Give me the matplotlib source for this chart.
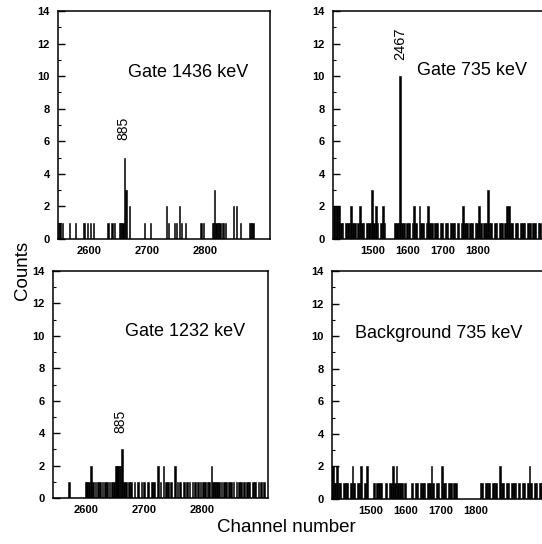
import matplotlib
matplotlib.use("Agg")
import matplotlib.pyplot as plt
from matplotlib.ticker import MultipleLocator

W, H = 542, 544
FONT = "Liberation Sans"

# ---------------- data ----------------
# Gate 1436 keV (top-left): non-zero channels and their counts
g1436_ch = [2546, 2548, 2552, 2564, 2575, 2589, 2591, 2595, 2601, 2606,
            2631, 2638, 2642, 2651, 2653, 2655, 2657, 2659, 2661, 2663,
            2668, 2694, 2705, 2732, 2736, 2746, 2750, 2755, 2759, 2765,
            2792, 2797, 2812, 2814, 2816, 2818, 2820, 2822, 2825, 2829,
            2831, 2834, 2848, 2853, 2860, 2876, 2878, 2880, 2882]
g1436_cnt = [1, 1, 1, 1, 1, 1, 1, 1, 1, 1,
             1, 1, 1, 1, 1, 1, 1, 5, 3, 3,
             2, 1, 1, 2, 1, 1, 1, 2, 1, 1,
             1, 1, 1, 1, 3, 1, 1, 1, 1, 1,
             1, 1, 2, 2, 1, 1, 1, 1, 1]

# Gate 1232 keV (bottom-left)
g1232_ch = [2569, 2598, 2600, 2603, 2607, 2611, 2615, 2619, 2623, 2627,
            2631, 2635, 2639, 2643, 2647, 2650, 2652, 2654, 2656, 2658,
            2660, 2664, 2667, 2672, 2676, 2682, 2688, 2694, 2698, 2705,
            2712, 2716, 2723, 2727, 2732, 2737, 2740, 2745, 2752, 2756,
            2760, 2768, 2772, 2777, 2782, 2786, 2792, 2796, 2800, 2804,
            2808, 2811, 2815, 2818, 2821, 2824, 2828, 2832, 2836, 2840,
            2845, 2849, 2853, 2858, 2862, 2866, 2871, 2876, 2880, 2886,
            2890, 2896, 2900, 2906]
g1232_cnt = [1, 1, 1, 1, 2, 1, 1, 1, 1, 1,
             1, 1, 1, 1, 1, 2, 2, 2, 2, 2,
             3, 1, 1, 1, 1, 1, 1, 1, 1, 1,
             1, 1, 2, 1, 2, 1, 1, 1, 2, 1,
             1, 1, 1, 1, 1, 1, 1, 1, 1, 1,
             1, 1, 2, 1, 1, 1, 1, 1, 1, 1,
             1, 1, 1, 1, 1, 1, 1, 1, 1, 1,
             1, 1, 1, 1]

# Right panels: counts in 5-channel bins starting at channel 1385
bin_start = 1385
bin_width = 5
g735_cnt = [2, 2, 2, 2, 1, 1, 0, 1, 1, 1,
            2, 1, 1, 0, 1, 2, 1, 1, 0, 1,
            1, 1, 3, 1, 2, 1, 0, 1, 2, 1,
            0, 0, 0, 0, 0, 1, 1, 1, 10, 1,
            1, 0, 1, 1, 0, 1, 2, 1, 0, 2,
            1, 1, 0, 1, 2, 1, 1, 0, 1, 1,
            0, 1, 1, 0, 1, 1, 0, 1, 1, 1,
            0, 1, 0, 1, 2, 1, 1, 0, 1, 1,
            0, 1, 1, 2, 1, 0, 1, 1, 3, 1,
            1, 0, 1, 1, 0, 1, 1, 0, 1, 2,
            2, 1, 1, 0, 1, 1, 0, 1, 1, 1,
            0, 1, 1, 0, 1, 1, 0, 1, 1, 0,
            1, 1]
bg735_cnt = [2, 2, 1, 2, 1, 1, 0, 1, 1, 1,
             0, 1, 2, 1, 0, 1, 1, 2, 0, 1,
             2, 0, 0, 0, 1, 0, 1, 1, 1, 0,
             0, 1, 0, 1, 1, 2, 1, 2, 1, 1,
             1, 0, 1, 0, 0, 0, 1, 0, 1, 1,
             0, 1, 1, 1, 0, 1, 1, 2, 1, 0,
             1, 1, 0, 2, 1, 1, 0, 1, 1, 0,
             1, 1, 0, 0, 0, 0, 0, 0, 0, 0,
             0, 0, 0, 0, 0, 1, 1, 0, 1, 1,
             1, 0, 1, 1, 1, 0, 2, 1, 1, 0,
             1, 1, 0, 1, 1, 1, 0, 1, 0, 1,
             1, 0, 1, 2, 1, 0, 1, 1, 0, 1,
             1, 0]

y_ticks = [0, 2, 4, 6, 8, 10, 12, 14]
left_xticks = [2600, 2700, 2800]
right_xticks = [1500, 1600, 1700, 1800]
titles = ["Gate 1436 keV", "Gate 735 keV", "Gate 1232 keV", "Background 735 keV"]
peak_labels = ["885", "2467", "885"]

# ---------------- figure ----------------
fig = plt.figure(figsize=(W / 100, H / 100), dpi=100)


def make_ax(left, top, right, bottom):
    return fig.add_axes([left / W, 1 - bottom / H, (right - left) / W, (bottom - top) / H])


def style(ax, xlim, xticks):
    ax.set_xlim(*xlim)
    ax.set_ylim(0, 14)
    ax.set_yticks(y_ticks)
    ax.yaxis.set_minor_locator(MultipleLocator(1))
    ax.set_xticks(xticks)
    ax.tick_params(axis="y", which="major", direction="in", length=5, width=1.0, pad=6,
                   labelsize=8, right=False)
    ax.tick_params(axis="y", which="minor", direction="in", length=2, width=0.8)
    ax.tick_params(axis="x", which="major", direction="in", length=0, pad=5, labelsize=8)
    for lab in ax.get_xticklabels() + ax.get_yticklabels():
        lab.set_fontfamily(FONT)
        lab.set_fontweight("bold")
    for s in ax.spines.values():
        s.set_linewidth(1.1)


bar_kw = dict(color="black", edgecolor="black", linewidth=0.4, align="edge")

# top-left
ax1 = make_ax(58, 11, 270, 239)
ax1.bar(g1436_ch, g1436_cnt, width=2, **bar_kw)
style(ax1, (2545.5, 2912.5), left_xticks)
ax1.text(0.33, 0.732, titles[0], transform=ax1.transAxes, fontsize=13, family=FONT,
         ha="left", va="center")
ax1.text(2659.5, 6.1, peak_labels[0], rotation=90, fontsize=10, family=FONT,
         ha="center", va="bottom")

# top-right
bins_x = [bin_start + bin_width * i for i in range(len(g735_cnt))]
ax2 = make_ax(333, 11, 545, 239)
ax2.bar(bins_x, g735_cnt, width=bin_width, **bar_kw)
style(ax2, (1385.7, 1991), right_xticks)
ax2.text(0.396, 0.74, titles[1], transform=ax2.transAxes, fontsize=13, family=FONT,
         ha="left", va="center")
ax2.text(1578, 11.0, peak_labels[1], rotation=90, fontsize=10.5, family=FONT,
         ha="center", va="bottom")

# bottom-left
ax3 = make_ax(53, 271, 268, 498)
ax3.bar(g1232_ch, g1232_cnt, width=3, **bar_kw)
style(ax3, (2543, 2913.8), left_xticks)
ax3.text(0.335, 0.735, titles[2], transform=ax3.transAxes, fontsize=13, family=FONT,
         ha="left", va="center")
ax3.text(2660, 4.0, peak_labels[2], rotation=90, fontsize=10, family=FONT,
         ha="center", va="bottom")

# bottom-right
bins_x2 = [bin_start + bin_width * i for i in range(len(bg735_cnt))]
ax4 = make_ax(332, 271, 545, 499)
ax4.bar(bins_x2, bg735_cnt, width=bin_width, **bar_kw)
style(ax4, (1388.6, 1997), right_xticks)
ax4.text(0.11, 0.728, titles[3], transform=ax4.transAxes, fontsize=13, family=FONT,
         ha="left", va="center")

fig.text(22 / W, 1 - 270 / H, "Counts", rotation=90, fontsize=13.5, family=FONT,
         ha="center", va="center")
fig.text(286 / W, 1 - 527 / H, "Channel number", fontsize=13.5, family=FONT,
         ha="center", va="center")

fig.savefig("out.png", dpi=100)
